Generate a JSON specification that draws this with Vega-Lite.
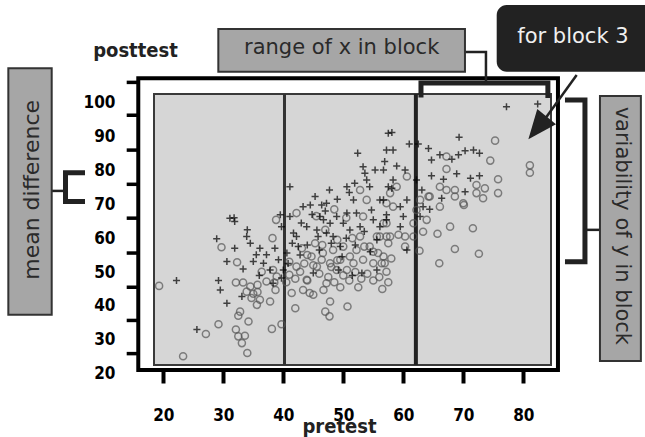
{
  "$schema": "https://vega.github.io/schema/vega-lite/v6.json",
  "width": 397,
  "height": 286,
  "autosize": {"type": "none"},
  "padding": {"left": 154, "top": 94, "right": 94, "bottom": 57},
  "background": "#ffffff",
  "config": {
    "view": {"fill": null, "stroke": null},
    "axis": {"grid": false, "labelOverlap": false}
  },
  "layer": [
    {
      "data": {"values": [
        {"pretest":19.3,"posttest":45.9,"group":"o"},{"pretest":23.3,"posttest":25.1,"group":"o"},{"pretest":27.1,"posttest":31.7,"group":"o"},{"pretest":29.2,"posttest":34.6,"group":"o"},{"pretest":29.7,"posttest":57.3,"group":"o"},{"pretest":32.3,"posttest":52.9,"group":"o"},{"pretest":32.1,"posttest":33.0,"group":"o"},{"pretest":32.5,"posttest":31.0,"group":"o"},{"pretest":33.1,"posttest":29.0,"group":"o"},{"pretest":33.6,"posttest":31.2,"group":"o"},{"pretest":34.0,"posttest":26.1,"group":"o"},{"pretest":32.8,"posttest":38.3,"group":"o"},{"pretest":32.5,"posttest":37.1,"group":"o"},{"pretest":34.2,"posttest":35.4,"group":"o"},{"pretest":32.1,"posttest":46.9,"group":"o"},{"pretest":33.3,"posttest":46.9,"group":"o"},{"pretest":34.5,"posttest":45.7,"group":"o"},{"pretest":33.9,"posttest":44.2,"group":"o"},{"pretest":35.0,"posttest":43.6,"group":"o"},{"pretest":35.6,"posttest":40.3,"group":"o"},{"pretest":34.7,"posttest":42.3,"group":"o"},{"pretest":36.1,"posttest":41.8,"group":"o"},{"pretest":35.7,"posttest":46.2,"group":"o"},{"pretest":35.7,"posttest":44.1,"group":"o"},{"pretest":37.8,"posttest":41.3,"group":"o"},{"pretest":38.1,"posttest":33.2,"group":"o"},{"pretest":39.7,"posttest":34.6,"group":"o"},{"pretest":38.2,"posttest":60.0,"group":"o"},{"pretest":38.8,"posttest":65.4,"group":"o"},{"pretest":38.7,"posttest":44.7,"group":"o"},{"pretest":38.5,"posttest":46.9,"group":"o"},{"pretest":38.9,"posttest":48.7,"group":"o"},{"pretest":38.3,"posttest":50.6,"group":"o"},{"pretest":37.2,"posttest":47.2,"group":"o"},{"pretest":36.4,"posttest":50.1,"group":"o"},{"pretest":41.0,"posttest":49.2,"group":"o"},{"pretest":41.4,"posttest":43.8,"group":"o"},{"pretest":42.0,"posttest":39.3,"group":"o"},{"pretest":42.2,"posttest":51.6,"group":"o"},{"pretest":42.8,"posttest":50.1,"group":"o"},{"pretest":43.3,"posttest":44.7,"group":"o"},{"pretest":43.1,"posttest":57.0,"group":"o"},{"pretest":42.2,"posttest":67.4,"group":"o"},{"pretest":44.4,"posttest":43.8,"group":"o"},{"pretest":45.0,"posttest":43.3,"group":"o"},{"pretest":43.9,"posttest":47.7,"group":"o"},{"pretest":44.7,"posttest":54.6,"group":"o"},{"pretest":45.3,"posttest":58.5,"group":"o"},{"pretest":45.6,"posttest":51.6,"group":"o"},{"pretest":46.4,"posttest":53.6,"group":"o"},{"pretest":46.7,"posttest":44.7,"group":"o"},{"pretest":46.6,"posttest":55.6,"group":"o"},{"pretest":47.2,"posttest":46.7,"group":"o"},{"pretest":47.8,"posttest":41.3,"group":"o"},{"pretest":47.0,"posttest":38.3,"group":"o"},{"pretest":47.7,"posttest":36.9,"group":"o"},{"pretest":47.8,"posttest":52.6,"group":"o"},{"pretest":48.9,"posttest":50.6,"group":"o"},{"pretest":48.3,"posttest":56.5,"group":"o"},{"pretest":49.5,"posttest":53.6,"group":"o"},{"pretest":50.0,"posttest":57.5,"group":"o"},{"pretest":50.6,"posttest":50.6,"group":"o"},{"pretest":50.7,"posttest":39.8,"group":"o"},{"pretest":51.1,"posttest":54.6,"group":"o"},{"pretest":51.7,"posttest":52.6,"group":"o"},{"pretest":52.2,"posttest":56.5,"group":"o"},{"pretest":52.8,"posttest":60.5,"group":"o"},{"pretest":53.3,"posttest":53.6,"group":"o"},{"pretest":52.8,"posttest":74.2,"group":"o"},{"pretest":53.3,"posttest":66.4,"group":"o"},{"pretest":53.9,"posttest":71.3,"group":"o"},{"pretest":54.4,"posttest":57.5,"group":"o"},{"pretest":55.0,"posttest":52.6,"group":"o"},{"pretest":55.6,"posttest":60.5,"group":"o"},{"pretest":55.8,"posttest":55.6,"group":"o"},{"pretest":56.4,"posttest":52.6,"group":"o"},{"pretest":56.7,"posttest":64.4,"group":"o"},{"pretest":57.2,"posttest":50.1,"group":"o"},{"pretest":57.2,"posttest":60.5,"group":"o"},{"pretest":57.2,"posttest":70.3,"group":"o"},
        {"pretest":75.3,"posttest":88.8,"group":"o"},{"pretest":74.5,"posttest":82.9,"group":"o"},{"pretest":81.1,"posttest":81.5,"group":"o"},{"pretest":81.1,"posttest":79.3,"group":"o"},{"pretest":67.2,"posttest":84.1,"group":"o"},{"pretest":67.2,"posttest":80.4,"group":"o"},{"pretest":75.8,"posttest":77.4,"group":"o"},{"pretest":75.8,"posttest":73.3,"group":"o"},{"pretest":72.2,"posttest":75.7,"group":"o"},{"pretest":73.6,"posttest":74.7,"group":"o"},{"pretest":73.3,"posttest":71.8,"group":"o"},{"pretest":72.2,"posttest":73.3,"group":"o"},{"pretest":68.6,"posttest":74.2,"group":"o"},{"pretest":68.6,"posttest":72.3,"group":"o"},{"pretest":70.1,"posttest":69.8,"group":"o"},{"pretest":67.2,"posttest":74.2,"group":"o"},{"pretest":66.1,"posttest":75.2,"group":"o"},{"pretest":64.4,"posttest":72.3,"group":"o"},{"pretest":66.1,"posttest":69.3,"group":"o"},{"pretest":67.8,"posttest":63.4,"group":"o"},{"pretest":71.6,"posttest":62.9,"group":"o"},{"pretest":65.7,"posttest":61.3,"group":"o"},{"pretest":68.6,"posttest":56.8,"group":"o"},{"pretest":72.6,"posttest":55.4,"group":"o"},{"pretest":66.0,"posttest":52.6,"group":"o"},{"pretest":62.7,"posttest":56.3,"group":"o"},{"pretest":63.3,"posttest":61.9,"group":"o"},{"pretest":61.7,"posttest":60.5,"group":"o"},{"pretest":60.3,"posttest":60.5,"group":"o"},{"pretest":59.2,"posttest":61.0,"group":"o"},{"pretest":57.8,"posttest":60.5,"group":"o"},{"pretest":60.3,"posttest":57.5,"group":"o"},{"pretest":62.2,"posttest":68.3,"group":"o"},{"pretest":61.7,"posttest":64.4,"group":"o"},{"pretest":63.9,"posttest":65.4,"group":"o"},{"pretest":62.8,"posttest":71.3,"group":"o"},{"pretest":64.2,"posttest":72.3,"group":"o"},{"pretest":58.9,"posttest":75.2,"group":"o"},{"pretest":60.6,"posttest":78.2,"group":"o"},{"pretest":57.8,"posttest":73.3,"group":"o"},{"pretest":57.2,"posttest":64.4,"group":"o"},{"pretest":58.3,"posttest":69.3,"group":"o"},{"pretest":56.7,"posttest":54.6,"group":"o"},{"pretest":56.9,"posttest":52.6,"group":"o"},{"pretest":56.1,"posttest":60.5,"group":"o"},{"pretest":70.0,"posttest":70.3,"group":"o"},
        {"pretest":44.0,"posttest":55.0,"group":"o"},{"pretest":45.0,"posttest":52.0,"group":"o"},{"pretest":46.0,"posttest":49.5,"group":"o"},{"pretest":47.5,"posttest":48.5,"group":"o"},{"pretest":48.5,"posttest":47.0,"group":"o"},{"pretest":49.0,"posttest":53.5,"group":"o"},{"pretest":50.0,"posttest":49.0,"group":"o"},{"pretest":51.0,"posttest":47.5,"group":"o"},{"pretest":52.0,"posttest":50.0,"group":"o"},{"pretest":53.0,"posttest":48.0,"group":"o"},{"pretest":54.0,"posttest":49.5,"group":"o"},{"pretest":55.0,"posttest":47.5,"group":"o"},{"pretest":56.0,"posttest":48.5,"group":"o"},{"pretest":57.5,"posttest":47.0,"group":"o"},{"pretest":56.5,"posttest":45.0,"group":"o"},{"pretest":52.5,"posttest":45.5,"group":"o"},{"pretest":49.5,"posttest":45.5,"group":"o"},{"pretest":48.0,"posttest":51.5,"group":"o"},{"pretest":46.5,"posttest":58.0,"group":"o"},{"pretest":44.0,"posttest":47.5,"group":"o"},{"pretest":43.5,"posttest":52.5,"group":"o"},{"pretest":42.0,"posttest":48.0,"group":"o"},{"pretest":41.0,"posttest":53.0,"group":"o"},{"pretest":40.5,"posttest":47.0,"group":"o"},{"pretest":47.0,"posttest":62.5,"group":"o"},{"pretest":49.0,"posttest":59.5,"group":"o"},{"pretest":51.5,"posttest":60.0,"group":"o"},{"pretest":53.5,"posttest":57.5,"group":"o"},{"pretest":55.0,"posttest":56.0,"group":"o"},{"pretest":58.0,"posttest":54.0,"group":"o"},{"pretest":57.5,"posttest":58.5,"group":"o"},{"pretest":50.5,"posttest":66.0,"group":"o"},{"pretest":48.5,"posttest":68.5,"group":"o"},{"pretest":45.5,"posttest":66.5,"group":"o"},
        {"pretest":22.2,"posttest":47.5,"group":"+"},{"pretest":25.6,"posttest":33.0,"group":"+"},{"pretest":28.9,"posttest":59.8,"group":"+"},{"pretest":29.2,"posttest":47.5,"group":"+"},{"pretest":29.5,"posttest":44.7,"group":"+"},{"pretest":30.6,"posttest":40.8,"group":"+"},{"pretest":30.6,"posttest":53.1,"group":"+"},{"pretest":31.1,"posttest":65.9,"group":"+"},{"pretest":31.9,"posttest":64.9,"group":"+"},{"pretest":31.9,"posttest":57.0,"group":"+"},{"pretest":33.1,"posttest":42.8,"group":"+"},{"pretest":33.3,"posttest":50.9,"group":"+"},{"pretest":33.9,"posttest":60.5,"group":"+"},{"pretest":34.5,"posttest":58.5,"group":"+"},{"pretest":35.0,"posttest":53.1,"group":"+"},{"pretest":35.5,"posttest":55.1,"group":"+"},{"pretest":36.1,"posttest":57.0,"group":"+"},{"pretest":36.7,"posttest":52.6,"group":"+"},{"pretest":37.2,"posttest":55.1,"group":"+"},{"pretest":37.8,"posttest":50.6,"group":"+"},{"pretest":38.6,"posttest":57.0,"group":"+"},{"pretest":39.2,"posttest":53.6,"group":"+"},{"pretest":38.3,"posttest":46.7,"group":"+"},{"pretest":39.7,"posttest":48.2,"group":"+"},{"pretest":40.0,"posttest":50.6,"group":"+"},{"pretest":39.7,"posttest":63.4,"group":"+"},{"pretest":39.5,"posttest":66.9,"group":"+"},{"pretest":40.6,"posttest":55.6,"group":"+"},{"pretest":41.1,"posttest":75.2,"group":"+"},{"pretest":41.1,"posttest":66.4,"group":"+"},{"pretest":41.7,"posttest":61.5,"group":"+"},{"pretest":42.2,"posttest":60.5,"group":"+"},{"pretest":42.5,"posttest":57.5,"group":"+"},{"pretest":43.3,"posttest":69.3,"group":"+"},{"pretest":43.9,"posttest":63.4,"group":"+"},{"pretest":44.5,"posttest":69.8,"group":"+"},{"pretest":45.0,"posttest":49.7,"group":"+"},{"pretest":45.3,"posttest":72.3,"group":"+"},{"pretest":45.6,"posttest":62.4,"group":"+"},{"pretest":45.8,"posttest":60.5,"group":"+"},{"pretest":46.1,"posttest":66.4,"group":"+"},{"pretest":46.4,"posttest":69.8,"group":"+"},{"pretest":46.7,"posttest":65.4,"group":"+"},{"pretest":47.2,"posttest":61.5,"group":"+"},{"pretest":47.2,"posttest":70.3,"group":"+"},{"pretest":47.7,"posttest":74.2,"group":"+"},{"pretest":47.8,"posttest":64.4,"group":"+"},{"pretest":48.3,"posttest":60.5,"group":"+"},{"pretest":48.9,"posttest":66.4,"group":"+"},{"pretest":49.2,"posttest":50.6,"group":"+"},{"pretest":49.5,"posttest":57.5,"group":"+"},{"pretest":50.0,"posttest":64.4,"group":"+"},{"pretest":50.6,"posttest":75.2,"group":"+"},{"pretest":50.6,"posttest":67.4,"group":"+"},{"pretest":51.1,"posttest":62.4,"group":"+"},{"pretest":51.7,"posttest":71.3,"group":"+"},{"pretest":51.9,"posttest":76.2,"group":"+"},{"pretest":52.2,"posttest":67.4,"group":"+"},{"pretest":52.4,"posttest":85.1,"group":"+"},{"pretest":52.8,"posttest":63.4,"group":"+"},{"pretest":53.1,"posttest":49.7,"group":"+"},{"pretest":53.3,"posttest":81.1,"group":"+"},{"pretest":53.6,"posttest":79.2,"group":"+"},{"pretest":53.9,"posttest":77.2,"group":"+"},{"pretest":54.4,"posttest":75.2,"group":"+"},{"pretest":54.7,"posttest":68.3,"group":"+"},{"pretest":55.0,"posttest":65.4,"group":"+"},{"pretest":55.3,"posttest":80.1,"group":"+"},{"pretest":55.6,"posttest":59.5,"group":"+"},{"pretest":55.6,"posttest":50.6,"group":"+"},{"pretest":56.1,"posttest":71.3,"group":"+"},{"pretest":56.7,"posttest":80.1,"group":"+"},{"pretest":56.9,"posttest":82.6,"group":"+"},{"pretest":57.2,"posttest":86.0,"group":"+"},{"pretest":57.5,"posttest":75.2,"group":"+"},{"pretest":57.5,"posttest":91.0,"group":"+"},{"pretest":57.2,"posttest":65.4,"group":"+"},
        {"pretest":77.2,"posttest":98.8,"group":"+"},{"pretest":82.4,"posttest":99.6,"group":"+"},{"pretest":58.1,"posttest":91.2,"group":"+"},{"pretest":69.3,"posttest":89.8,"group":"+"},{"pretest":61.0,"posttest":87.8,"group":"+"},{"pretest":62.5,"posttest":87.8,"group":"+"},{"pretest":64.2,"posttest":86.5,"group":"+"},{"pretest":64.7,"posttest":83.1,"group":"+"},{"pretest":66.1,"posttest":84.6,"group":"+"},{"pretest":68.1,"posttest":83.3,"group":"+"},{"pretest":69.2,"posttest":84.6,"group":"+"},{"pretest":70.3,"posttest":85.8,"group":"+"},{"pretest":71.7,"posttest":86.0,"group":"+"},{"pretest":72.7,"posttest":85.1,"group":"+"},{"pretest":58.3,"posttest":86.0,"group":"+"},{"pretest":58.9,"posttest":81.3,"group":"+"},{"pretest":60.3,"posttest":80.1,"group":"+"},{"pretest":62.2,"posttest":77.2,"group":"+"},{"pretest":64.7,"posttest":78.4,"group":"+"},{"pretest":66.7,"posttest":77.4,"group":"+"},{"pretest":68.9,"posttest":79.0,"group":"+"},{"pretest":71.2,"posttest":77.7,"group":"+"},{"pretest":72.7,"posttest":78.4,"group":"+"},{"pretest":58.3,"posttest":77.2,"group":"+"},{"pretest":58.1,"posttest":74.7,"group":"+"},{"pretest":63.1,"posttest":74.2,"group":"+"},{"pretest":66.4,"posttest":71.8,"group":"+"},{"pretest":70.3,"posttest":73.7,"group":"+"},{"pretest":60.6,"posttest":71.3,"group":"+"},{"pretest":59.5,"posttest":69.3,"group":"+"},{"pretest":63.3,"posttest":69.3,"group":"+"},{"pretest":64.4,"posttest":68.5,"group":"+"},{"pretest":56.7,"posttest":71.3,"group":"+"},{"pretest":57.2,"posttest":66.9,"group":"+"},{"pretest":60.0,"posttest":66.4,"group":"+"},{"pretest":62.8,"posttest":66.4,"group":"+"},{"pretest":59.5,"posttest":63.4,"group":"+"},{"pretest":60.6,"posttest":56.5,"group":"+"},{"pretest":56.1,"posttest":63.4,"group":"+"},
        {"pretest":42.8,"posttest":55.0,"group":"+"},{"pretest":44.0,"posttest":58.0,"group":"+"},{"pretest":46.0,"posttest":56.5,"group":"+"},{"pretest":48.0,"posttest":58.5,"group":"+"},{"pretest":50.5,"posttest":60.0,"group":"+"},{"pretest":52.0,"posttest":58.0,"group":"+"},{"pretest":53.5,"posttest":62.0,"group":"+"},{"pretest":54.5,"posttest":56.0,"group":"+"},{"pretest":43.0,"posttest":64.5,"group":"+"},{"pretest":49.0,"posttest":71.5,"group":"+"},{"pretest":51.0,"posttest":73.5,"group":"+"},{"pretest":44.8,"posttest":67.0,"group":"+"},{"pretest":47.0,"posttest":68.0,"group":"+"},{"pretest":41.5,"posttest":58.5,"group":"+"},{"pretest":40.8,"posttest":52.5,"group":"+"},{"pretest":36.0,"posttest":49.0,"group":"+"},{"pretest":34.0,"posttest":62.5,"group":"+"},{"pretest":31.8,"posttest":66.0,"group":"+"},{"pretest":49.8,"posttest":54.5,"group":"+"},{"pretest":51.5,"posttest":49.0,"group":"+"}
      ]},
      "layer": [
        {
          "data": {"values": [{"x0": 18.45, "x1": 84.62, "y0": 22.54, "y1": 102.57}]},
          "mark": {"type": "rect", "fill": "#d6d6d6", "stroke": "#3a3a3a", "strokeWidth": 2},
          "encoding": {"x": {"field": "x0", "type": "quantitative"}, "x2": {"field": "x1"}, "y": {"field": "y0", "type": "quantitative"}, "y2": {"field": "y1"}}
        },
        {
          "data": {"values": [{"b": 40.2, "y0": 22.54, "y1": 102.57}]},
          "mark": {"type": "rule", "color": "#333333", "strokeWidth": 3},
          "encoding": {"x": {"field": "b", "type": "quantitative"}, "y": {"field": "y0", "type": "quantitative"}, "y2": {"field": "y1"}}
        },
        {
          "data": {"values": [{"b": 62.1, "y0": 22.54, "y1": 102.57}]},
          "mark": {"type": "rule", "color": "#222222", "strokeWidth": 4},
          "encoding": {"x": {"field": "b", "type": "quantitative"}, "y": {"field": "y0", "type": "quantitative"}, "y2": {"field": "y1"}}
        },
        {
          "mark": {"type": "point", "filled": false, "size": 50, "strokeWidth": 1.5},
          "encoding": {
            "x": {"field": "pretest", "type": "quantitative"},
            "y": {"field": "posttest", "type": "quantitative"},
            "shape": {"field": "group", "type": "nominal", "scale": {"domain": ["o", "+"], "range": ["circle", "M-1,0L1,0M0,-1L0,1"]}, "legend": null},
            "stroke": {"field": "group", "type": "nominal", "scale": {"domain": ["o", "+"], "range": ["#555555", "#000000"]}, "legend": null}
          }
        }
      ],
      "encoding": {
        "x": {"type": "quantitative", "scale": {"domain": [18.45, 84.62], "nice": false, "zero": false},
          "axis": {"title": "pretest", "values": [20, 30, 40, 50, 60, 70, 80], "tickCount": 20, "labelOverlap": false, "domain": false, "tickSize": 13, "tickWidth": 4, "tickColor": "#000000", "offset": -10, "labelPadding": 24,
            "labelFont": "DejaVu Sans Condensed", "labelFontWeight": "bold", "labelFontSize": 17, "labelColor": "#000000",
            "titleFont": "DejaVu Sans Condensed", "titleFontWeight": "bold", "titleFontSize": 20, "titleColor": "#222222", "titleX": 185, "titleY": 56, "titleBaseline": "middle", "titleAlign": "center"}},
        "y": {"type": "quantitative", "scale": {"domain": [18.11, 102.57], "nice": false, "zero": false},
          "axis": {"title": "posttest", "values": [20, 30, 40, 50, 60, 70, 80, 90, 100], "tickCount": 20, "labelOverlap": false, "domain": false, "ticks": false, "tickSize": 0, "labelPadding": 39,
            "labelFont": "DejaVu Sans Condensed", "labelFontWeight": "bold", "labelFontSize": 17, "labelColor": "#000000",
            "titleFont": "DejaVu Sans Condensed", "titleFontWeight": "bold", "titleFontSize": 20, "titleColor": "#222222", "titleAngle": 0, "titleX": -19, "titleY": -44, "titleAlign": "center", "titleBaseline": "middle"}}
      }
    },
    {
      "data": {"values": [{}]},
      "mark": {"type": "rect", "fillOpacity": 0, "stroke": "#000000", "strokeWidth": 4},
      "encoding": {
        "x": {"datum": 15.83, "type": "quantitative"},
        "x2": {"datum": 85.78},
        "y": {"datum": 107.2, "type": "quantitative"},
        "y2": {"datum": 21.06}
      }
    },
    {
      "data": {"values": [{"t": 106.0}, {"t": 96.3}, {"t": 86.0}, {"t": 75.9}, {"t": 65.9}, {"t": 55.6}, {"t": 45.5}, {"t": 35.7}, {"t": 25.9}]},
      "mark": {"type": "rule", "color": "#000000", "strokeWidth": 3.5},
      "encoding": {
        "x": {"datum": 13.9, "type": "quantitative"},
        "x2": {"datum": 15.83},
        "y": {"field": "t", "type": "quantitative"}
      }
    },
    {
      "data": {"values": [
        {"x": 62.95, "y": 101.5, "o": 1, "id": "top"}, {"x": 62.95, "y": 105.8, "o": 2, "id": "top"}, {"x": 84.1, "y": 105.8, "o": 3, "id": "top"}, {"x": 84.1, "y": 101.4, "o": 4, "id": "top"},
        {"x": 6.95, "y": 79.35, "o": 1, "id": "left"}, {"x": 3.7, "y": 79.35, "o": 2, "id": "left"}, {"x": 3.7, "y": 70.8, "o": 3, "id": "left"}, {"x": 6.95, "y": 70.8, "o": 4, "id": "left"},
        {"x": 86.95, "y": 100.8, "o": 1, "id": "right"}, {"x": 90.28, "y": 100.8, "o": 2, "id": "right"}, {"x": 90.28, "y": 53.0, "o": 3, "id": "right"}, {"x": 86.95, "y": 53.0, "o": 4, "id": "right"}
      ]},
      "mark": {"type": "line", "color": "#222222", "strokeWidth": 5, "strokeJoin": "miter", "strokeCap": "butt"},
      "encoding": {
        "x": {"field": "x", "type": "quantitative"},
        "y": {"field": "y", "type": "quantitative"},
        "order": {"field": "o"},
        "detail": {"field": "id"}
      }
    },
    {
      "data": {"values": [
        {"x": 70.28, "y": 114.96, "o": 1, "id": "a"}, {"x": 73.78, "y": 114.96, "o": 2, "id": "a"}, {"x": 73.78, "y": 105.8, "o": 3, "id": "a"},
        {"x": 1.4, "y": 73.95, "o": 1, "id": "b"}, {"x": 3.7, "y": 73.95, "o": 2, "id": "b"},
        {"x": 90.28, "y": 62.45, "o": 1, "id": "c"}, {"x": 92.78, "y": 62.45, "o": 2, "id": "c"},
        {"x": 88.9, "y": 108.17, "o": 1, "id": "d"}, {"x": 82.8, "y": 93.2, "o": 2, "id": "d"}
      ]},
      "mark": {"type": "line", "color": "#222222", "strokeWidth": 2.5},
      "encoding": {
        "x": {"field": "x", "type": "quantitative"},
        "y": {"field": "y", "type": "quantitative"},
        "order": {"field": "o"},
        "detail": {"field": "id"}
      }
    },
    {
      "data": {"values": [{}]},
      "mark": {"type": "point", "shape": "M0,-1L-0.83,1L0.83,1Z", "filled": true, "color": "#222222", "opacity": 1, "size": 841, "angle": 219},
      "encoding": {
        "x": {"datum": 82.37, "type": "quantitative"},
        "y": {"datum": 92.54, "type": "quantitative"}
      }
    },
    {
      "data": {"values": [{"label": "range of x in block"}]},
      "layer": [
        {
          "mark": {"type": "rect", "fill": "#a6a6a6", "stroke": "#333333", "strokeWidth": 2},
          "encoding": {"x": {"datum": 29.17, "type": "quantitative"}, "x2": {"datum": 70.28}, "y": {"datum": 121.74, "type": "quantitative"}, "y2": {"datum": 109.14}}
        },
        {
          "mark": {"type": "text", "font": "DejaVu Sans", "fontSize": 21, "fontWeight": 500, "color": "#2a2a2a", "align": "center", "baseline": "middle"},
          "encoding": {"x": {"datum": 49.73, "type": "quantitative"}, "y": {"datum": 116.05, "type": "quantitative"}, "text": {"field": "label"}}
        }
      ]
    },
    {
      "data": {"values": [{"label": "for block 3"}]},
      "layer": [
        {
          "mark": {"type": "rect", "fill": "#222222", "cornerRadius": 10},
          "encoding": {"x": {"datum": 75.57, "type": "quantitative"}, "x2": {"datum": 102.5}, "y": {"datum": 128.82, "type": "quantitative"}, "y2": {"datum": 109.14}}
        },
        {
          "mark": {"type": "text", "font": "DejaVu Sans", "fontSize": 21, "color": "#f0f0f0", "align": "center", "baseline": "middle"},
          "encoding": {"x": {"datum": 88.28, "type": "quantitative"}, "y": {"datum": 119.47, "type": "quantitative"}, "text": {"field": "label"}}
        }
      ]
    },
    {
      "data": {"values": [{"label": "mean difference"}]},
      "layer": [
        {
          "mark": {"type": "rect", "fill": "#a6a6a6", "stroke": "#333333", "strokeWidth": 2},
          "encoding": {"x": {"datum": -5.83, "type": "quantitative"}, "x2": {"datum": 1.4}, "y": {"datum": 110.15, "type": "quantitative"}, "y2": {"datum": 37.37}}
        },
        {
          "mark": {"type": "text", "font": "DejaVu Sans", "fontSize": 22, "fontWeight": 500, "color": "#2a2a2a", "align": "center", "baseline": "middle", "angle": 270},
          "encoding": {"x": {"datum": -1.93, "type": "quantitative"}, "y": {"datum": 74.25, "type": "quantitative"}, "text": {"field": "label"}}
        }
      ]
    },
    {
      "data": {"values": [{"label": "variability of y in block"}]},
      "layer": [
        {
          "mark": {"type": "rect", "fill": "#a6a6a6", "stroke": "#333333", "strokeWidth": 2},
          "encoding": {"x": {"datum": 92.78, "type": "quantitative"}, "x2": {"datum": 99.6}, "y": {"datum": 101.98, "type": "quantitative"}, "y2": {"datum": 23.69}}
        },
        {
          "mark": {"type": "text", "font": "DejaVu Sans", "fontSize": 21, "fontWeight": 500, "color": "#2a2a2a", "align": "center", "baseline": "middle", "angle": 90},
          "encoding": {"x": {"datum": 96.4, "type": "quantitative"}, "y": {"datum": 63.63, "type": "quantitative"}, "text": {"field": "label"}}
        }
      ]
    }
  ]
}
